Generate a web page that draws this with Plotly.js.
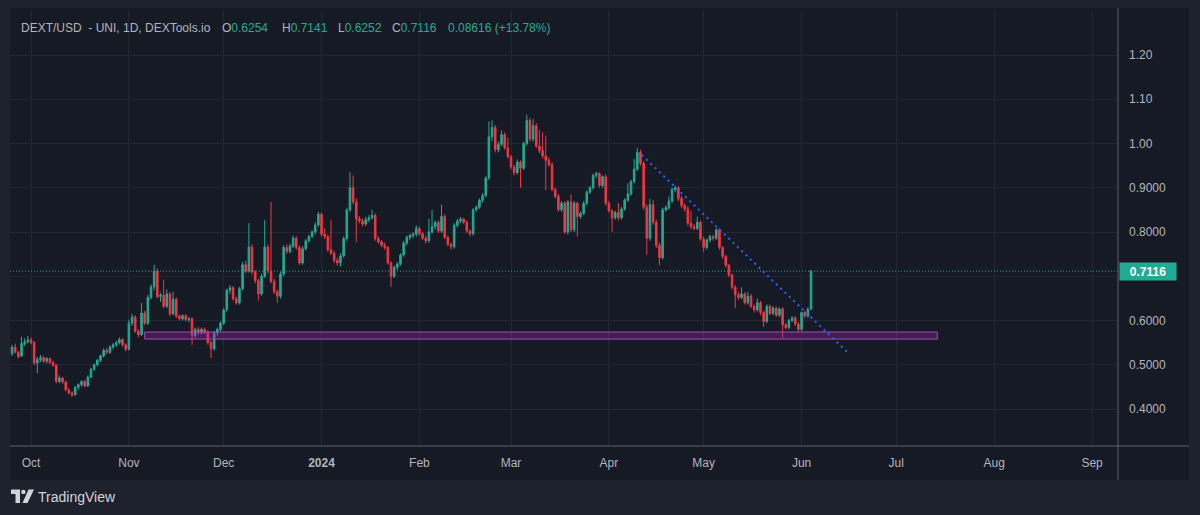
<!DOCTYPE html>
<html>
<head>
<meta charset="utf-8">
<script src="https://cdn.plot.ly/plotly-3.0.1.min.js"></script>
<style>
  html, body { margin: 0; padding: 0; background: #1e222d; }
  #chart { width: 1200px; height: 515px; }
</style>
</head>
<body>
<div id="chart"></div>
<script>
// DEXT/USD daily candles, 25 Sep 2023 - 4 Jun 2024
const firstDay = '2023-09-25';

const open = [
  0.525,0.540,0.528,0.520,0.548,0.552,0.556,0.550,0.504,0.512,
  0.516,0.508,0.514,0.505,0.499,0.462,0.470,0.461,0.443,0.436,
  0.432,0.449,0.455,0.462,0.452,0.472,0.490,0.500,0.510,0.520,
  0.533,0.528,0.540,0.545,0.550,0.557,0.545,0.535,0.594,0.608,
  0.576,0.568,0.617,0.594,0.652,0.676,0.712,0.654,0.657,0.632,
  0.660,0.615,0.648,0.610,0.604,0.611,0.602,0.604,0.566,0.580,
  0.572,0.580,0.573,0.550,0.536,0.572,0.580,0.594,0.624,0.668,
  0.674,0.649,0.640,0.672,0.726,0.712,0.766,0.710,0.690,0.660,
  0.700,0.766,0.712,0.688,0.665,0.655,0.705,0.765,0.756,0.768,
  0.786,0.765,0.730,0.762,0.780,0.790,0.800,0.816,0.840,0.795,
  0.790,0.760,0.752,0.736,0.730,0.746,0.785,0.850,0.900,0.868,
  0.830,0.825,0.818,0.828,0.832,0.838,0.785,0.778,0.770,0.765,
  0.730,0.700,0.720,0.728,0.748,0.775,0.788,0.792,0.795,0.808,
  0.796,0.786,0.780,0.800,0.812,0.822,0.802,0.835,0.788,0.772,
  0.767,0.815,0.825,0.829,0.822,0.802,0.796,0.850,0.856,0.872,
  0.882,0.922,1.015,1.036,0.986,0.998,1.020,0.990,0.970,0.947,
  0.934,0.958,0.944,1.000,1.052,1.010,1.040,0.994,0.984,0.972,
  0.962,0.952,0.896,0.880,0.850,0.865,0.800,0.868,0.805,0.865,
  0.835,0.842,0.865,0.890,0.900,0.928,0.932,0.905,0.925,0.865,
  0.848,0.832,0.844,0.832,0.852,0.872,0.886,0.914,0.942,0.980,
  0.955,0.856,0.786,0.862,0.822,0.770,0.742,0.850,0.855,0.870,
  0.896,0.900,0.876,0.860,0.852,0.820,0.812,0.808,0.822,0.784,
  0.765,0.782,0.790,0.786,0.805,0.765,0.745,0.725,0.703,0.675,
  0.658,0.652,0.660,0.640,0.655,0.632,0.624,0.640,0.618,0.598,
  0.632,0.616,0.628,0.612,0.626,0.590,0.584,0.600,0.606,0.592,
  0.580,0.618,0.610,0.6254
];

const high = [
  0.545,0.548,0.532,0.563,0.560,0.565,0.562,0.554,0.518,0.522,
  0.520,0.518,0.516,0.509,0.501,0.476,0.473,0.464,0.447,0.440,
  0.452,0.458,0.465,0.466,0.476,0.493,0.503,0.513,0.523,0.537,
  0.537,0.544,0.549,0.554,0.562,0.560,0.548,0.602,0.615,0.612,
  0.580,0.640,0.622,0.658,0.682,0.726,0.718,0.662,0.692,0.670,
  0.664,0.665,0.652,0.614,0.614,0.614,0.608,0.607,0.584,0.585,
  0.584,0.584,0.578,0.555,0.576,0.584,0.598,0.628,0.672,0.680,
  0.678,0.654,0.676,0.732,0.735,0.820,0.772,0.714,0.694,0.706,
  0.827,0.772,0.868,0.694,0.670,0.710,0.770,0.772,0.774,0.792,
  0.790,0.770,0.768,0.784,0.794,0.804,0.822,0.846,0.844,0.808,
  0.794,0.827,0.758,0.742,0.752,0.790,0.855,0.935,0.928,0.876,
  0.836,0.830,0.834,0.838,0.850,0.842,0.790,0.782,0.776,0.768,
  0.734,0.724,0.732,0.752,0.780,0.792,0.796,0.800,0.815,0.812,
  0.800,0.792,0.830,0.850,0.826,0.826,0.862,0.840,0.792,0.776,
  0.820,0.830,0.834,0.832,0.826,0.806,0.854,0.860,0.876,0.888,
  0.926,1.050,1.052,1.042,1.004,1.030,1.025,1.013,0.974,0.952,
  0.964,0.962,1.004,1.065,1.058,1.055,1.046,1.030,1.026,1.018,
  0.968,0.958,0.900,0.886,0.870,0.870,0.872,0.885,0.870,0.868,
  0.846,0.870,0.894,0.904,0.932,0.936,0.935,0.928,0.930,0.870,
  0.852,0.848,0.865,0.856,0.876,0.910,0.918,0.965,0.990,0.986,
  0.960,0.862,0.875,0.872,0.828,0.776,0.855,0.860,0.880,0.900,
  0.905,0.904,0.882,0.864,0.858,0.848,0.818,0.835,0.826,0.790,
  0.786,0.794,0.794,0.808,0.808,0.768,0.748,0.728,0.706,0.680,
  0.664,0.675,0.664,0.665,0.660,0.636,0.650,0.644,0.622,0.636,
  0.636,0.632,0.632,0.630,0.630,0.594,0.604,0.610,0.610,0.596,
  0.620,0.622,0.630,0.7141
];

const low = [
  0.520,0.526,0.514,0.518,0.542,0.548,0.546,0.500,0.481,0.506,
  0.504,0.503,0.501,0.495,0.458,0.458,0.457,0.440,0.433,0.427,
  0.430,0.444,0.450,0.449,0.450,0.470,0.486,0.496,0.506,0.517,
  0.524,0.525,0.535,0.540,0.546,0.541,0.530,0.532,0.588,0.572,
  0.562,0.565,0.590,0.590,0.648,0.668,0.650,0.642,0.628,0.628,
  0.610,0.612,0.606,0.600,0.600,0.598,0.596,0.545,0.560,0.568,
  0.568,0.569,0.545,0.515,0.532,0.566,0.576,0.590,0.620,0.660,
  0.645,0.636,0.636,0.668,0.706,0.708,0.704,0.684,0.645,0.656,
  0.696,0.706,0.684,0.660,0.640,0.650,0.700,0.750,0.752,0.764,
  0.760,0.726,0.726,0.758,0.776,0.786,0.795,0.812,0.790,0.784,
  0.755,0.748,0.730,0.724,0.722,0.742,0.780,0.845,0.862,0.777,
  0.820,0.812,0.814,0.822,0.828,0.780,0.774,0.766,0.760,0.726,
  0.676,0.696,0.714,0.724,0.744,0.770,0.782,0.786,0.790,0.792,
  0.782,0.774,0.776,0.796,0.806,0.798,0.798,0.784,0.768,0.760,
  0.762,0.810,0.820,0.818,0.798,0.790,0.792,0.846,0.852,0.866,
  0.878,0.918,1.005,0.980,0.980,0.994,0.986,0.966,0.942,0.928,
  0.930,0.900,0.940,0.995,1.005,1.004,0.990,0.978,0.966,0.895,
  0.948,0.892,0.876,0.846,0.846,0.796,0.794,0.800,0.800,0.790,
  0.830,0.838,0.860,0.886,0.896,0.922,0.900,0.900,0.860,0.844,
  0.800,0.828,0.826,0.828,0.848,0.868,0.882,0.910,0.938,0.950,
  0.850,0.748,0.780,0.816,0.764,0.725,0.738,0.846,0.850,0.866,
  0.890,0.870,0.854,0.846,0.814,0.806,0.804,0.804,0.780,0.755,
  0.760,0.776,0.780,0.782,0.760,0.740,0.720,0.698,0.670,0.628,
  0.646,0.648,0.636,0.636,0.628,0.618,0.620,0.612,0.585,0.594,
  0.612,0.612,0.608,0.608,0.560,0.580,0.580,0.596,0.588,0.573,
  0.576,0.606,0.606,0.6252
];

const close = [
  0.540,0.528,0.518,0.548,0.552,0.556,0.550,0.504,0.512,0.516,
  0.508,0.514,0.505,0.499,0.462,0.470,0.461,0.443,0.436,0.432,
  0.449,0.455,0.462,0.452,0.472,0.490,0.500,0.510,0.520,0.533,
  0.528,0.540,0.545,0.550,0.557,0.545,0.535,0.594,0.608,0.576,
  0.568,0.617,0.594,0.652,0.676,0.712,0.654,0.657,0.632,0.660,
  0.615,0.648,0.610,0.604,0.611,0.602,0.604,0.566,0.580,0.572,
  0.580,0.573,0.550,0.536,0.572,0.580,0.594,0.624,0.668,0.674,
  0.649,0.640,0.672,0.726,0.712,0.766,0.710,0.690,0.660,0.700,
  0.766,0.712,0.688,0.665,0.655,0.705,0.765,0.756,0.768,0.786,
  0.765,0.730,0.762,0.780,0.790,0.800,0.816,0.840,0.795,0.790,
  0.760,0.752,0.736,0.730,0.746,0.785,0.850,0.900,0.868,0.830,
  0.825,0.818,0.828,0.832,0.838,0.785,0.778,0.770,0.765,0.730,
  0.700,0.720,0.728,0.748,0.775,0.788,0.792,0.795,0.808,0.796,
  0.786,0.780,0.800,0.812,0.822,0.802,0.835,0.788,0.772,0.767,
  0.815,0.825,0.829,0.822,0.802,0.796,0.850,0.856,0.872,0.882,
  0.922,1.015,1.036,0.986,0.998,1.020,0.990,0.970,0.947,0.934,
  0.958,0.944,1.000,1.052,1.010,1.040,0.994,0.984,0.972,0.962,
  0.952,0.896,0.880,0.850,0.865,0.800,0.868,0.805,0.865,0.835,
  0.842,0.865,0.890,0.900,0.928,0.932,0.905,0.925,0.865,0.848,
  0.832,0.844,0.832,0.852,0.872,0.886,0.914,0.942,0.980,0.955,
  0.856,0.786,0.862,0.822,0.770,0.742,0.850,0.855,0.870,0.896,
  0.900,0.876,0.860,0.852,0.820,0.812,0.808,0.822,0.784,0.765,
  0.782,0.790,0.786,0.805,0.765,0.745,0.725,0.703,0.675,0.658,
  0.652,0.660,0.640,0.655,0.632,0.624,0.640,0.618,0.598,0.632,
  0.616,0.628,0.612,0.626,0.590,0.584,0.600,0.606,0.592,0.580,
  0.618,0.610,0.6254,0.7116
];

// time axis labels (first day of each month)
const monthTicks = ['2023-10-01','2023-11-01','2023-12-01','2024-01-01','2024-02-01','2024-03-01',
                    '2024-04-01','2024-05-01','2024-06-01','2024-07-01','2024-08-01','2024-09-01'];
const monthLabels = ['Oct','Nov','Dec','<b>2024</b>','Feb','Mar','Apr','May','Jun','Jul','Aug','Sep'];

// price axis
const priceTicks = [0.4, 0.5, 0.6, 0.7, 0.8, 0.9, 1.0, 1.1, 1.2];
const priceLabels = ['0.4000','0.5000','0.6000','','0.8000','0.9000','1.00','1.10','1.20'];

// support zone and falling trendline drawn on the chart
const zoneDates = ['2023-11-06', '2024-07-14'];
const zoneValues = [0.558, 0.574];
const trendDates = ['2024-04-11 10:00', '2024-06-15 08:00'];
const trendValues = [0.974, 0.5295];

// header figures
const lastOHLC = { o: '0.6254', h: '0.7141', l: '0.6252', c: '0.7116' };
const lastChange = '0.08616 (+13.78%)';

const dates = open.map((_, i) => {
  const d = new Date(firstDay + 'T00:00:00Z');
  d.setUTCDate(d.getUTCDate() + i);
  return d.toISOString().slice(0, 10);
});
const lastClose = close[close.length - 1];

const UP = '#22ab94';
const DOWN = '#f23645';
const PANE = '#161a25';
const FRAME = '#1e222d';
const GRID = '#232733';
const AXIS_LINE = '#5d606b';
const TEXT = '#b2b5be';
const FONT = 'Liberation Sans, Arial, sans-serif';

// pixel helpers for paper-referenced decorations
const W = 1200, H = 515;
const M = { l: 10, r: 82, t: 10, b: 69 };
const PW = W - M.l - M.r, PH = H - M.t - M.b;
const fx = px => (px - M.l) / PW;
const fy = py => (H - M.b - py) / PH;
const pt = (px, py) => fx(px) + ',' + fy(py);

const candles = {
  type: 'candlestick',
  x: dates, open: open, high: high, low: low, close: close,
  increasing: { line: { color: UP, width: 1 }, fillcolor: UP },
  decreasing: { line: { color: DOWN, width: 1 }, fillcolor: DOWN },
  whiskerwidth: 0,
  hoverinfo: 'skip',
  showlegend: false
};

// TradingView mark, drawn around a reference point
const LX = 11, LY = 489.5;
const shapes = [
  // chart pane
  { type: 'rect', xref: 'paper', yref: 'paper', layer: 'below',
    x0: fx(10), x1: fx(1189), y0: fy(480), y1: fy(8),
    fillcolor: PANE, line: { width: 0 } },
  // support zone
  { type: 'rect', xref: 'x', yref: 'y', layer: 'above',
    x0: zoneDates[0], x1: zoneDates[1], y0: zoneValues[0], y1: zoneValues[1],
    fillcolor: 'rgba(156,39,176,0.32)', line: { color: '#ab47bc', width: 1 } },
  // falling trendline
  { type: 'line', xref: 'x', yref: 'y', layer: 'above',
    x0: trendDates[0], x1: trendDates[1], y0: trendValues[0], y1: trendValues[1],
    line: { color: '#2962ff', width: 2, dash: '2px,4px' } },
  // last price line
  { type: 'line', xref: 'paper', yref: 'y', layer: 'above',
    x0: 0, x1: 1, y0: lastClose, y1: lastClose,
    line: { color: UP, width: 1, dash: '1px,2px' } },
  // time axis border
  { type: 'line', xref: 'paper', yref: 'paper',
    x0: 0, x1: fx(1189), y0: 0, y1: 0, line: { color: AXIS_LINE, width: 1 } },
  // price axis border
  { type: 'line', xref: 'paper', yref: 'paper',
    x0: 1, x1: 1, y0: fy(480), y1: fy(8), line: { color: AXIS_LINE, width: 1 } },
  { type: 'path', xref: 'paper', yref: 'paper', fillcolor: '#d1d4dc', line: { width: 0 },
    path: 'M' + pt(LX, LY) + ' L' + pt(LX + 9, LY) + ' L' + pt(LX + 9, LY + 13.5) + ' L' + pt(LX + 4.5, LY + 13.5) +
          ' L' + pt(LX + 4.5, LY + 4.5) + ' L' + pt(LX, LY + 4.5) + ' Z' },
  { type: 'circle', xref: 'paper', yref: 'paper', fillcolor: '#d1d4dc', line: { width: 0 },
    x0: fx(LX + 10.2), x1: fx(LX + 14.6), y0: fy(LY + 4.6), y1: fy(LY + 0.2) },
  { type: 'path', xref: 'paper', yref: 'paper', fillcolor: '#d1d4dc', line: { width: 0 },
    path: 'M' + pt(LX + 17.5, LY) + ' L' + pt(LX + 23, LY) + ' L' + pt(LX + 16.5, LY + 13.5) +
          ' L' + pt(LX + 11.5, LY + 13.5) + ' Z' }
];

const teal = s => '<span style="color:' + UP + '">' + s + '</span>';
const headerFont = { family: FONT, size: 12, color: TEXT };
const hdr = (px, text) => ({
  xref: 'paper', yref: 'paper', x: fx(px), y: fy(28), xanchor: 'left', yanchor: 'middle',
  text: text, showarrow: false, font: headerFont
});

const annotations = [
  hdr(19, 'DEXT/USD&nbsp; - UNI, 1D, DEXTools.io'),
  hdr(220, 'O' + teal(lastOHLC.o)),
  hdr(280, 'H' + teal(lastOHLC.h)),
  hdr(336, 'L' + teal(lastOHLC.l)),
  hdr(390, 'C' + teal(lastOHLC.c)),
  hdr(446, teal(lastChange)),
  // last price tag on the price axis
  { xref: 'paper', yref: 'y', x: fx(1119), y: lastClose, xanchor: 'left', yanchor: 'middle',
    text: '<b>' + lastClose.toFixed(4) + '</b>', showarrow: false,
    bgcolor: UP, width: 52, height: 13, borderpad: 2,
    font: { family: FONT, size: 12, color: '#ffffff' } },
  // brand
  { xref: 'paper', yref: 'paper', x: fx(36), y: fy(496.5), xanchor: 'left', yanchor: 'middle',
    text: 'TradingView', showarrow: false,
    font: { family: FONT, size: 14, color: '#d1d4dc' } }
];

const layout = {
  width: W, height: H,
  margin: M,
  paper_bgcolor: FRAME,
  plot_bgcolor: PANE,
  showlegend: false,
  hovermode: false,
  dragmode: false,
  font: { family: FONT, size: 12, color: TEXT },
  xaxis: {
    type: 'date',
    range: ['2023-09-24 08:24', '2024-09-09 05:00'],
    rangeslider: { visible: false },
    tickmode: 'array', tickvals: monthTicks, ticktext: monthLabels,
    showgrid: true, gridcolor: GRID, gridwidth: 1,
    zeroline: false, showline: false, ticks: '',
    ticklabelstandoff: 8,
    tickfont: { family: FONT, size: 12, color: TEXT }
  },
  yaxis: {
    side: 'right',
    range: [0.3164, 1.3017],
    tickmode: 'array', tickvals: priceTicks, ticktext: priceLabels,
    showgrid: true, gridcolor: GRID, gridwidth: 1,
    zeroline: false, showline: false, ticks: '',
    ticklabelstandoff: 10,
    tickfont: { family: FONT, size: 12, color: TEXT }
  },
  shapes: shapes,
  annotations: annotations
};

Plotly.newPlot('chart', [candles], layout, { displayModeBar: false, staticPlot: true });
</script>
</body>
</html>
